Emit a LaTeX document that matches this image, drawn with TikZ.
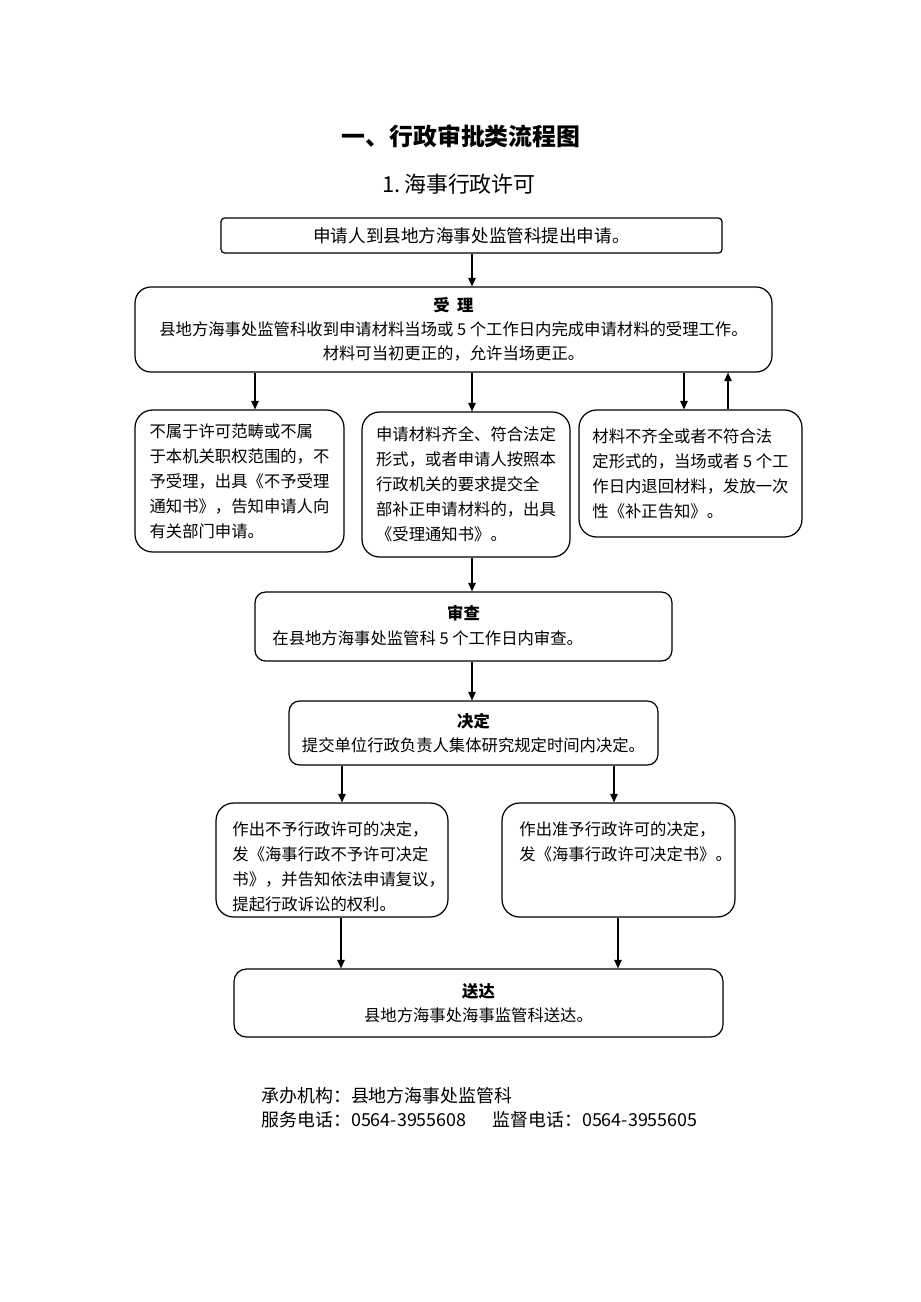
\documentclass[tikz,border=0pt]{standalone}
\usepackage{fontspec}
\setmainfont{Noto Sans CJK SC}
\usepackage{tikz}
\usetikzlibrary{arrows.meta,positioning}

\begin{document}
\begin{tikzpicture}[x=0.02cm, y=-0.02cm, line width=0.7pt,
		block/.style = {rectangle, draw, rounded corners=6pt, align=center,
				font=\fontsize{9.3}{13.6}\selectfont},
		softblock/.style = {block, rounded corners=10pt, align=left,
				font=\fontsize{9.3}{14.2}\selectfont},
		heading/.style = {font=\fontsize{9.3}{11}\selectfont\bfseries},
		bodytext/.style = {font=\fontsize{9.3}{14.2}\selectfont},
		arrow/.style = {-{Triangle[length=1.7mm, width=1.5mm]}, line width=0.6pt}
	]
	\useasboundingbox (0,0) rectangle (920,1302);

	% Titles
	\node[font=\fontsize{13.6}{16}\selectfont\bfseries] (title) at (461,136) {一、行政审批类流程图};
	\node[font=\fontsize{12.5}{15}\selectfont] (subtitle) at (459,184) {1.\,海事行政许可};

	% Nodes
	\node[block, rounded corners=2pt, minimum width=10.02cm, minimum height=0.70cm,
		font=\fontsize{10}{12}\selectfont] (apply) at (471.5,235.5) {申请人到县地方海事处监管科提出申请。};
	\node[block, rounded corners=9pt, minimum width=12.74cm, minimum height=1.70cm,
		font=\fontsize{9.3}{13.8}\selectfont] (accept)
		at (453.5,329.5) {{\bfseries 受\ \ 理}\\县地方海事处监管科收到申请材料当场或 5 个工作日内完成申请材料的受理工作。\\材料可当初更正的，允许当场更正。};

	\node[softblock, minimum width=4.18cm, minimum height=2.84cm] (noaccept) at (239.5,481)
		{不属于许可范畴或不属\\于本机关职权范围的，不\\予受理，出具《不予受理\\通知书》，告知申请人向\\有关部门申请。};
	\node[softblock, minimum width=4.16cm, minimum height=2.90cm] (accepted) at (466,484.5)
		{申请材料齐全、符合法定\\形式，或者申请人按照本\\行政机关的要求提交全\\部补正申请材料的，出具\\《受理通知书》。};
	\node[softblock, minimum width=4.46cm, minimum height=2.54cm] (supplement) at (690.5,473.5)
		{材料不齐全或者不符合法\\定形式的，当场或者 5 个工\\作日内退回材料，发放一次\\性《补正告知》。};

	\node[block, minimum width=8.34cm, minimum height=1.38cm] (review) at (463.5,626.5) {};
	\node[heading] (reviewtitle) at (463.5,613) {审查};
	\node[bodytext, anchor=west] (reviewtext) at (266,638) {在县地方海事处监管科 5 个工作日内审查。};

	\node[block, minimum width=7.38cm, minimum height=1.28cm] (decide) at (473.5,733)
		{{\bfseries 决定}\\提交单位行政负责人集体研究规定时间内决定。};

	\node[softblock, minimum width=4.64cm, minimum height=2.28cm] (deny) at (332,860) {};
	\node[bodytext, anchor=north west, align=left] (denytext) at (226,815)
		{作出不予行政许可的决定，\\发《海事行政不予许可决定\\书》，并告知依法申请复议，\\提起行政诉讼的权利。};
	\node[softblock, minimum width=4.66cm, minimum height=2.28cm] (grant) at (618.5,860) {};
	\node[bodytext, anchor=north west, align=left] (granttext) at (513,815)
		{作出准予行政许可的决定，\\发《海事行政许可决定书》。};

	\node[block, rounded corners=7pt, minimum width=9.78cm, minimum height=1.36cm] (deliver)
		at (478.5,1003) {{\bfseries 送达}\\县地方海事处海事监管科送达。};

	% Footer
	\node[font=\fontsize{10.2}{12}\selectfont, anchor=west] (office) at (255,1096) {承办机构：县地方海事处监管科};
	\node[font=\fontsize{10.2}{12}\selectfont, anchor=west] (service) at (255,1120) {服务电话：0564-3955608};
	\node[font=\fontsize{10.2}{12}\selectfont, anchor=west] (supervise) at (486,1120) {监督电话：0564-3955605};

	% Arrow columns
	\coordinate (cmid) at (472,0);
	\coordinate (cleft) at (255,0);
	\coordinate (cright) at (684,0);
	\coordinate (cback) at (728,0);
	\coordinate (cdeny) at (342,0);
	\coordinate (cgrant) at (614,0);
	\coordinate (cdenyout) at (341,0);
	\coordinate (cgrantout) at (618,0);

	% Arrows
	\draw[arrow] (apply.south -| cmid) -- (accept.north -| cmid);
	\draw[arrow] (accept.south -| cleft) -- (noaccept.north -| cleft);
	\draw[arrow] (accept.south -| cmid) -- (accepted.north -| cmid);
	\draw[arrow] (accept.south -| cright) -- (supplement.north -| cright);
	\draw[arrow] (supplement.north -| cback) -- (accept.south -| cback);
	\draw[arrow] (accepted.south -| cmid) -- (review.north -| cmid);
	\draw[arrow] (review.south -| cmid) -- (decide.north -| cmid);
	\draw[arrow] (decide.south -| cdeny) -- (deny.north -| cdeny);
	\draw[arrow] (decide.south -| cgrant) -- (grant.north -| cgrant);
	\draw[arrow] (deny.south -| cdenyout) -- (deliver.north -| cdenyout);
	\draw[arrow] (grant.south -| cgrantout) -- (deliver.north -| cgrantout);
\end{tikzpicture}
\end{document}
